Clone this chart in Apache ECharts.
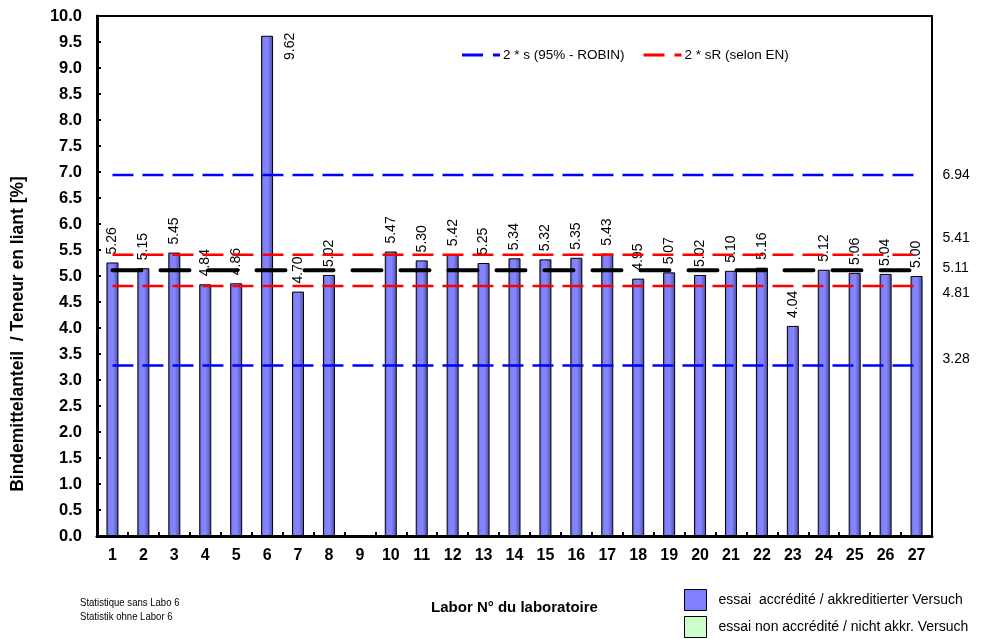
<!DOCTYPE html>
<html>
<head>
<meta charset="utf-8">
<script src="https://cdn.jsdelivr.net/npm/echarts@6/dist/echarts.min.js"></script>
<style>
  html, body { margin: 0; padding: 0; background: #fff; }
  #chart { width: 984px; height: 639px; }
</style>
</head>
<body>
<div id="chart"></div>
<script>
// Laboratory numbers on the x axis
const labs = ['1','2','3','4','5','6','7','8','9','10','11','12','13','14','15','16','17','18','19','20','21','22','23','24','25','26','27'];
// Binder content per laboratory [%] (lab 9 delivered no result)
const binderContent = [5.26, 5.15, 5.45, 4.84, 4.86, 9.62, 4.70, 5.02, null, 5.47, 5.30, 5.42, 5.25, 5.34, 5.32, 5.35, 5.43, 4.95, 5.07, 5.02, 5.10, 5.16, 4.04, 5.12, 5.06, 5.04, 5.00];
// Non-accredited tests (none in this round)
const nonAccredited = [null, null, null, null, null, null, null, null, null, null, null, null, null, null, null, null, null, null, null, null, null, null, null, null, null, null, null];
// Statistics (computed without lab 6)
const meanValue = 5.11;
const robinLimits = [6.94, 3.28];   // mean ± 2·s (95% - ROBIN)
const enLimits = [5.41, 4.81];      // mean ± 2·sR (selon EN)
// Y axis range
const yMin = 0, yMax = 10, yStep = 0.5;

const NAME_ACC = 'essai  accrédité / akkreditierter Versuch';
const NAME_NON = 'essai non accrédité / nicht akkr. Versuch';
const NAME_S = '2 * s (95% - ROBIN)';
const NAME_SR = '2 * sR (selon EN)';
const FONT = 'Liberation Sans, Arial, Helvetica, sans-serif';

// Dashed legend key: long dash, gap, short dash
const DASH_ICON = 'path://M0,0 H21 V3 H0 Z M31,0 H38 V3 H31 Z';

const barFill = {
  type: 'linear', x: 0, y: 0, x2: 1, y2: 0,
  colorStops: [
    { offset: 0, color: '#5858bc' },
    { offset: 0.2, color: '#8080ff' },
    { offset: 0.55, color: '#8686ff' },
    { offset: 1, color: '#4a4aa4' }
  ]
};

// The outlier (lab 6) gets its label placed beside the top of the bar
const barData = binderContent.map((v, i) => {
  if (v === null) return '-';
  if (v > 9) {
    return {
      value: v,
      label: { rotate: 90, position: [29, -3], align: 'right', verticalAlign: 'middle' }
    };
  }
  return v;
});

function flatLine(value) {
  return labs.map(() => value);
}

function limitSeries(name, value, color, width, dash, cap, dy) {
  return {
    name: name,
    type: 'line',
    data: flatLine(value),
    symbol: 'none',
    silent: true,
    z: 4,
    itemStyle: { color: color },
    lineStyle: { color: color, width: width, type: dash, cap: cap },
    endLabel: {
      show: true,
      distance: 26,
      offset: [0, dy],
      color: '#000',
      fontFamily: FONT,
      fontSize: 14,
      formatter: p => Number(p.value).toFixed(2)
    }
  };
}

const chart = echarts.init(document.getElementById('chart'), null, { renderer: 'canvas' });

chart.setOption({
  animation: false,
  backgroundColor: '#fff',
  textStyle: { fontFamily: FONT },
  grid: {
    left: 97, right: 52, top: 16, bottom: 103,
    show: true, borderColor: '#000', borderWidth: 2, backgroundColor: 'transparent'
  },
  legend: [
    {
      data: [
        { name: NAME_S, icon: DASH_ICON, itemStyle: { color: '#0000ff' } },
        { name: NAME_SR, icon: DASH_ICON, itemStyle: { color: '#ff0000' } }
      ],
      left: 462, top: 48,
      padding: 0,
      itemWidth: 38, itemHeight: 3, itemGap: 19,
      selectedMode: false,
      textStyle: { fontFamily: FONT, fontSize: 13.5, color: '#000', padding: [0, 0, 0, -2] }
    },
    {
      data: [
        { name: NAME_ACC, icon: 'rect', itemStyle: { color: '#8080ff', borderColor: '#000', borderWidth: 1 } },
        { name: NAME_NON, icon: 'rect', itemStyle: { color: '#ccffcc', borderColor: '#000', borderWidth: 1 } }
      ],
      orient: 'vertical',
      left: 684, top: 589,
      padding: 0,
      itemWidth: 22, itemHeight: 21, itemGap: 5,
      selectedMode: false,
      textStyle: { fontFamily: FONT, fontSize: 14, color: '#000', padding: [0, 0, 0, 7] }
    }
  ],
  xAxis: {
    type: 'category',
    data: labs,
    boundaryGap: true,
    name: 'Labor N° du laboratoire',
    nameLocation: 'middle',
    nameGap: 64,
    nameTextStyle: { fontFamily: FONT, fontSize: 15, fontWeight: 'bold', color: '#000' },
    axisLine: { lineStyle: { color: '#000', width: 3 } },
    axisTick: { show: true, inside: true, length: 4, lineStyle: { color: '#000', width: 2 } },
    axisLabel: { margin: 12, color: '#000', fontFamily: FONT, fontSize: 16, fontWeight: 'bold' },
    splitLine: { show: false }
  },
  yAxis: {
    type: 'value',
    min: yMin, max: yMax, interval: yStep,
    axisLine: { show: true, lineStyle: { color: '#000', width: 3 } },
    axisTick: { show: true, inside: true, length: 4, lineStyle: { color: '#000', width: 2 } },
    axisLabel: {
      margin: 15, color: '#000', fontFamily: FONT, fontSize: 16.5, fontWeight: 'bold',
      formatter: v => v.toFixed(1)
    },
    splitLine: { show: false }
  },
  graphic: [
    {
      type: 'text',
      x: 18, y: 334,
      rotation: Math.PI / 2,
      style: {
        text: 'Bindemittelanteil  / Teneur en liant [%]',
        font: 'bold 17.5px ' + FONT,
        fill: '#000',
        textAlign: 'center',
        textVerticalAlign: 'middle'
      }
    },
    {
      type: 'text',
      x: 80, y: 596,
      scaleX: 0.87,
      style: {
        text: 'Statistique sans Labo 6\nStatistik ohne Labor 6',
        font: '11px ' + FONT,
        lineHeight: 14,
        fill: '#000'
      }
    }
  ],
  series: [
    {
      name: NAME_ACC,
      type: 'bar',
      data: barData,
      barWidth: 12,
      barGap: '-100%',
      z: 2,
      itemStyle: { color: barFill, borderColor: '#000', borderWidth: 1 },
      label: {
        show: true,
        position: 'top',
        distance: 8,
        rotate: 90,
        align: 'left',
        verticalAlign: 'middle',
        color: '#000',
        fontFamily: FONT,
        fontSize: 14,
        formatter: p => Number(p.value).toFixed(2)
      }
    },
    {
      name: NAME_NON,
      type: 'bar',
      data: nonAccredited.map(v => (v === null ? '-' : v)),
      barWidth: 12,
      barGap: '-100%',
      z: 2,
      itemStyle: { color: '#ccffcc', borderColor: '#000', borderWidth: 1 }
    },
    limitSeries(NAME_S, robinLimits[0], '#0000ff', 2.5, [21, 9], 'butt', 0),
    limitSeries(NAME_S, robinLimits[1], '#0000ff', 2.5, [21, 9], 'butt', -6),
    limitSeries(NAME_SR, enLimits[0], '#ff0000', 2.5, [21, 9], 'butt', -17),
    limitSeries(NAME_SR, enLimits[1], '#ff0000', 2.5, [21, 9], 'butt', 7),
    limitSeries('Moyenne', meanValue, '#000000', 4, [29, 19], 'round', -2)
  ]
});
</script>
</body>
</html>
